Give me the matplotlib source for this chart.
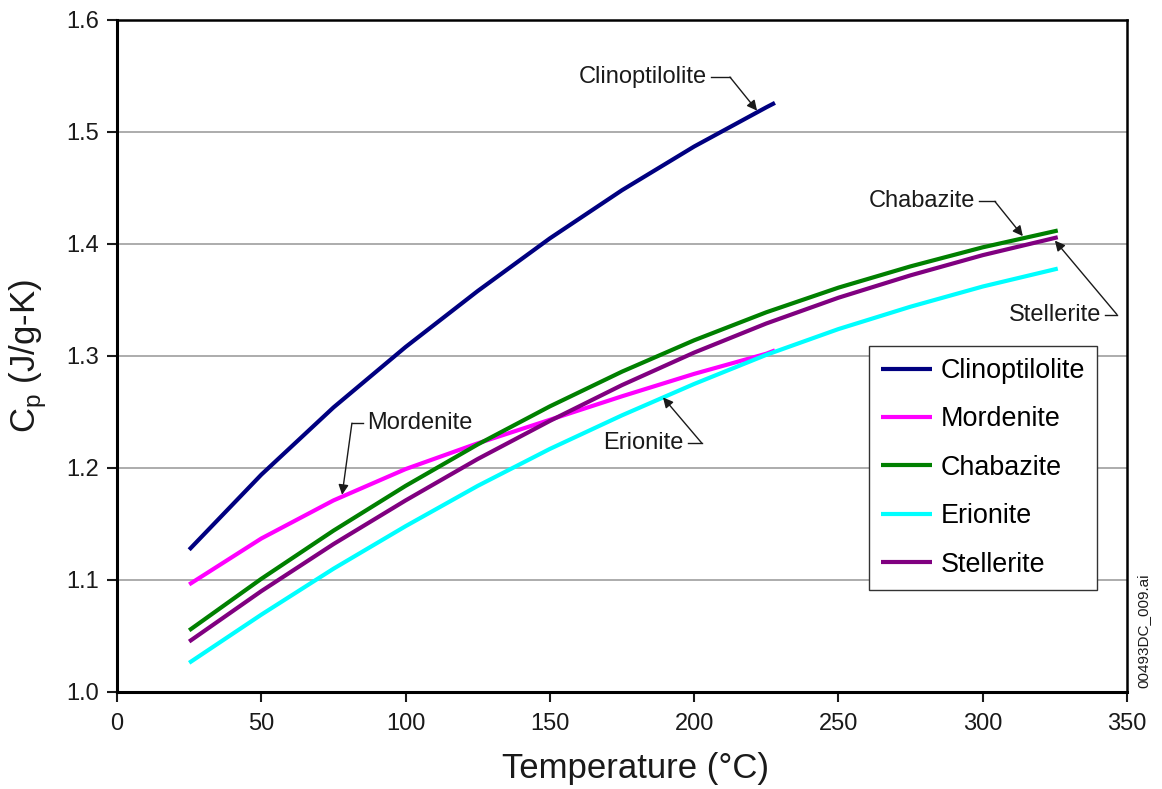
import matplotlib
matplotlib.use("Agg")
import matplotlib.pyplot as plt
import numpy as np

plt.rcParams['font.family'] = ['Liberation Sans', 'DejaVu Sans']
plt.rcParams['mathtext.fontset'] = 'custom'
plt.rcParams['mathtext.rm'] = 'Liberation Sans'

# temperature (deg C) and Cp (J/g-K)
t_short = [25, 50, 75, 100, 125, 150, 175, 200, 225, 228]
t_long = [25, 50, 75, 100, 125, 150, 175, 200, 225, 250, 275, 300, 326]

clino = [1.127, 1.194, 1.254, 1.308, 1.358, 1.405, 1.448, 1.487, 1.522, 1.526]
morden = [1.096, 1.137, 1.171, 1.199, 1.222, 1.243, 1.264, 1.284, 1.302, 1.305]
chaba = [1.055, 1.101, 1.144, 1.184, 1.221, 1.255, 1.286, 1.314, 1.339,
         1.361, 1.380, 1.397, 1.412]
erion = [1.026, 1.069, 1.110, 1.148, 1.184, 1.217, 1.247, 1.275, 1.301,
         1.324, 1.344, 1.362, 1.378]
stell = [1.045, 1.090, 1.132, 1.171, 1.208, 1.242, 1.274, 1.303, 1.329,
         1.352, 1.372, 1.390, 1.406]

names = ['Clinoptilolite', 'Mordenite', 'Chabazite', 'Erionite', 'Stellerite']
cols = ['#000080', '#ff00ff', '#008000', '#00ffff', '#800080']

# label text pos, corner of leader, arrow tip (data coords)
notes = {
    'Clinoptilolite': ((204.5, 1.549), (212.4, 1.549), (221.8, 1.519), 'right'),
    'Chabazite': ((297.3, 1.438), (304.2, 1.438), (313.9, 1.407), 'right'),
    'Stellerite': ((341.0, 1.337), (346.5, 1.337), (325.0, 1.403), 'right'),
    'Mordenite': ((86.5, 1.240), (81.4, 1.240), (78.0, 1.176), 'left'),
    'Erionite': ((196.3, 1.222), (202.7, 1.222), (189.2, 1.263), 'right'),
}

fig = plt.figure(figsize=(11.62, 7.89), dpi=100)
ax = fig.add_axes([0.1007, 0.123, 0.8692, 0.8517])

xs = [t_short, t_short, t_long, t_long, t_long]
ys = [clino, morden, chaba, erion, stell]
for x, y, nm, c in zip(xs, ys, names, cols):
    ax.plot(x, y, color=c, lw=3, label=nm, solid_capstyle='butt',
            solid_joinstyle='round')

for nm, (tp, cp, tip, ha) in notes.items():
    ax.text(tp[0], tp[1], nm, ha=ha, va='center', fontsize=17, color='#1a1a1a')
    ax.plot([tp[0] + (1.4 if ha == 'right' else -1.4), cp[0]], [tp[1], cp[1]],
            color='#1a1a1a', lw=1.0)
    ax.annotate('', xy=tip, xytext=cp,
                arrowprops=dict(arrowstyle='-|>', color='#1a1a1a', lw=1.0,
                                mutation_scale=15, shrinkA=0, shrinkB=0))

ax.set_xlim(0, 350)
ax.set_ylim(1.0, 1.6)
ax.set_xticks(np.arange(0, 351, 50))
ax.set_yticks(np.arange(1.0, 1.61, 0.1))
ax.set_yticklabels(['%.1f' % v for v in np.arange(1.0, 1.61, 0.1)])
ax.tick_params(direction='out', length=7, width=1.5, labelsize=17,
               colors='#1a1a1a')
ax.tick_params(axis='x', pad=8)
ax.tick_params(axis='y', pad=6)
for v in [1.1, 1.2, 1.3, 1.4, 1.5]:
    ax.axhline(v, color='#a6a6a6', lw=1.3, zorder=0)

for s in ['left', 'bottom']:
    ax.spines[s].set_linewidth(2.2)
for s in ['top', 'right']:
    ax.spines[s].set_linewidth(1.8)

ax.set_xlabel('Temperature (°C)', fontsize=25, color='#1a1a1a')
ax.xaxis.set_label_coords(0.513, -0.09)
ax.set_ylabel(r'C$_\mathregular{p}$ (J/g-K)', fontsize=25, labelpad=12,
              color='#1a1a1a')

leg = ax.legend(loc='upper left', bbox_to_anchor=(0.7446, 0.5149),
                borderaxespad=0, fontsize=19.4, handlelength=1.9,
                handletextpad=0.3, labelspacing=0.83, borderpad=0.45,
                fancybox=False, framealpha=1, edgecolor='#333333')
leg.get_frame().set_linewidth(1.0)

fig.text(0.984, 0.128, '00493DC_009.ai', rotation=90, fontsize=11,
         ha='center', va='bottom', color='#1a1a1a')

fig.savefig('out.png', dpi=100, facecolor='white')
